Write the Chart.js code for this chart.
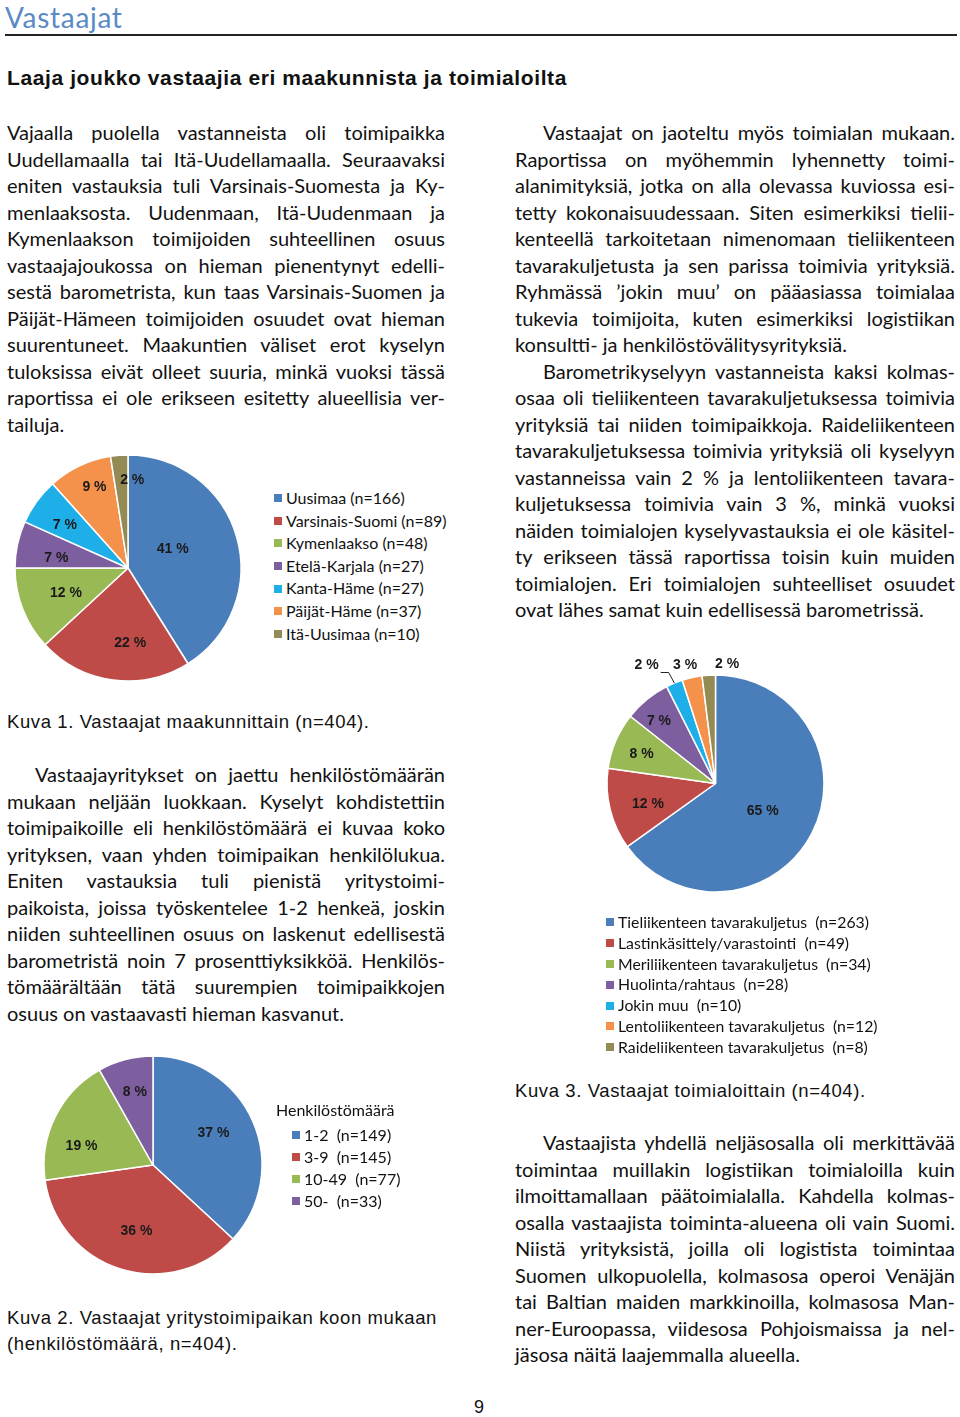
<!DOCTYPE html>
<html lang="fi">
<head>
<meta charset="utf-8">
<title>Vastaajat</title>
<script src="https://cdn.jsdelivr.net/npm/chart.js@4.4.1/dist/chart.umd.min.js"></script>
<style>
  html, body { margin: 0; padding: 0; background: #fff; }
  #page { position: relative; width: 960px; height: 1417px; overflow: hidden; color: #111; }
  .abs { position: absolute; }
  .title { left: 5px; top: 0px; font: 28px Lato, "Open Sans", sans-serif; line-height: normal; color: #5a8ac6; letter-spacing: 0.7px; }
  .rule { left: 5px; top: 34px; width: 952px; height: 2px; background: #222; }
  .sub { left: 7px; top: 65px; font: bold 21px/26px "Liberation Sans", Arial, sans-serif; letter-spacing: 0.6px; color: #111; }
  .col { font: 20px Lato, "Open Sans", sans-serif; color: #111; }
  .col.left { left: 7px; width: 438px; }
  .col.right { left: 515px; width: 440px; }
  .ln { height: 26.5px; line-height: 26.5px; text-align: justify; text-align-last: justify; white-space: normal; }
  .ln.e { text-align-last: left; }
  .ln.ind { padding-left: 28px; }
  .cap { font: 18.5px/26px "Liberation Sans", Arial, sans-serif; letter-spacing: 0.6px; color: #111; }
  .legend { font: 16px Lato, "Open Sans", sans-serif; color: #111; }
  .legend .it { position: relative; white-space: pre; }
  .legend .sw { position: absolute; width: 8px; height: 8px; }
  .pageno { left: 474px; top: 1395px; font: 18px/24px "Liberation Sans", Arial, sans-serif; }
</style>
</head>
<body>
<div id="page">
  <div class="abs title">Vastaajat</div>
  <div class="abs rule"></div>
  <div class="abs sub">Laaja joukko vastaajia eri maakunnista ja toimialoilta</div>

  <div class="abs col left" style="top:119px">
    <div class="ln">Vajaalla puolella vastanneista oli toimipaikka</div>
    <div class="ln">Uudellamaalla tai Itä-Uudellamaalla. Seuraavaksi</div>
    <div class="ln">eniten vastauksia tuli Varsinais-Suomesta ja Ky-</div>
    <div class="ln">menlaaksosta. Uudenmaan, Itä-Uudenmaan ja</div>
    <div class="ln">Kymenlaakson toimijoiden suhteellinen osuus</div>
    <div class="ln">vastaajajoukossa on hieman pienentynyt edelli-</div>
    <div class="ln">sestä barometrista, kun taas Varsinais-Suomen ja</div>
    <div class="ln">Päijät-Hämeen toimijoiden osuudet ovat hieman</div>
    <div class="ln">suurentuneet. Maakuntien väliset erot kyselyn</div>
    <div class="ln">tuloksissa eivät olleet suuria, minkä vuoksi tässä</div>
    <div class="ln">raportissa ei ole erikseen esitetty alueellisia ver-</div>
    <div class="ln e">tailuja.</div>
  </div>

  <div class="abs cap" style="left:7px; top:709px">Kuva 1. Vastaajat maakunnittain (n=404).</div>

  <div class="abs col left" style="top:761px">
    <div class="ln ind">Vastaajayritykset on jaettu henkilöstömäärän</div>
    <div class="ln">mukaan neljään luokkaan. Kyselyt kohdistettiin</div>
    <div class="ln">toimipaikoille eli henkilöstömäärä ei kuvaa koko</div>
    <div class="ln">yrityksen, vaan yhden toimipaikan henkilölukua.</div>
    <div class="ln">Eniten vastauksia tuli pienistä yritystoimi-</div>
    <div class="ln">paikoista, joissa työskentelee 1-2 henkeä, joskin</div>
    <div class="ln">niiden suhteellinen osuus on laskenut edellisestä</div>
    <div class="ln">barometristä noin 7 prosenttiyksikköä. Henkilös-</div>
    <div class="ln">tömäärältään tätä suurempien toimipaikkojen</div>
    <div class="ln e">osuus on vastaavasti hieman kasvanut.</div>
  </div>

  <div class="abs cap" style="left:7px; top:1305px">Kuva 2. Vastaajat yritystoimipaikan koon mukaan<br>(henkilöstömäärä, n=404).</div>

  <div class="abs col right" style="top:119px">
    <div class="ln ind">Vastaajat on jaoteltu myös toimialan mukaan.</div>
    <div class="ln">Raportissa on myöhemmin lyhennetty toimi-</div>
    <div class="ln">alanimityksiä, jotka on alla olevassa kuviossa esi-</div>
    <div class="ln">tetty kokonaisuudessaan. Siten esimerkiksi tielii-</div>
    <div class="ln">kenteellä tarkoitetaan nimenomaan tieliikenteen</div>
    <div class="ln">tavarakuljetusta ja sen parissa toimivia yrityksiä.</div>
    <div class="ln">Ryhmässä ’jokin muu’ on pääasiassa toimialaa</div>
    <div class="ln">tukevia toimijoita, kuten esimerkiksi logistiikan</div>
    <div class="ln e">konsultti- ja henkilöstövälitysyrityksiä.</div>
    <div class="ln ind">Barometrikyselyyn vastanneista kaksi kolmas-</div>
    <div class="ln">osaa oli tieliikenteen tavarakuljetuksessa toimivia</div>
    <div class="ln">yrityksiä tai niiden toimipaikkoja. Raideliikenteen</div>
    <div class="ln">tavarakuljetuksessa toimivia yrityksiä oli kyselyyn</div>
    <div class="ln">vastanneissa vain 2 % ja lentoliikenteen tavara-</div>
    <div class="ln">kuljetuksessa toimivia vain 3 %, minkä vuoksi</div>
    <div class="ln">näiden toimialojen kyselyvastauksia ei ole käsitel-</div>
    <div class="ln">ty erikseen tässä raportissa toisin kuin muiden</div>
    <div class="ln">toimialojen. Eri toimialojen suhteelliset osuudet</div>
    <div class="ln e">ovat lähes samat kuin edellisessä barometrissä.</div>
  </div>

  <div class="abs cap" style="left:515px; top:1078px">Kuva 3. Vastaajat toimialoittain (n=404).</div>

  <div class="abs col right" style="top:1129px">
    <div class="ln ind">Vastaajista yhdellä neljäsosalla oli merkittävää</div>
    <div class="ln">toimintaa muillakin logistiikan toimialoilla kuin</div>
    <div class="ln">ilmoittamallaan päätoimialalla. Kahdella kolmas-</div>
    <div class="ln">osalla vastaajista toiminta-alueena oli vain Suomi.</div>
    <div class="ln">Niistä yrityksistä, joilla oli logistista toimintaa</div>
    <div class="ln">Suomen ulkopuolella, kolmasosa operoi Venäjän</div>
    <div class="ln">tai Baltian maiden markkinoilla, kolmasosa Man-</div>
    <div class="ln">ner-Euroopassa, viidesosa Pohjoismaissa ja nel-</div>
    <div class="ln e">jäsosa näitä laajemmalla alueella.</div>
  </div>

  <div class="abs pageno">9</div>

  <canvas id="pie1" class="abs"></canvas>
  <canvas id="pie2" class="abs"></canvas>
  <canvas id="pie3" class="abs"></canvas>
  <div id="leg1" class="abs legend" style="left:271px; top:487px"></div>
  <div id="leg2" class="abs legend" style="left:276px; top:1099px"></div>
  <div id="leg3" class="abs legend" style="left:603px; top:912px; font-size:15.8px"></div>
</div>

<script>
// Kuva 1: maakunnat
const regionLabels = ["Uusimaa (n=166)", "Varsinais-Suomi (n=89)", "Kymenlaakso (n=48)",
  "Etelä-Karjala (n=27)", "Kanta-Häme (n=27)", "Päijät-Häme (n=37)", "Itä-Uusimaa (n=10)"];
const regionCounts = [166, 89, 48, 27, 27, 37, 10];

// Kuva 2: henkilöstömäärä
const sizeTitle = "Henkilöstömäärä";
const sizeLabels = ["1-2  (n=149)", "3-9  (n=145)", "10-49  (n=77)", "50-  (n=33)"];
const sizeCounts = [149, 145, 77, 33];

// Kuva 3: toimialat
const branchLabels = ["Tieliikenteen tavarakuljetus  (n=263)", "Lastinkäsittely/varastointi  (n=49)",
  "Meriliikenteen tavarakuljetus  (n=34)", "Huolinta/rahtaus  (n=28)", "Jokin muu  (n=10)",
  "Lentoliikenteen tavarakuljetus  (n=12)", "Raideliikenteen tavarakuljetus  (n=8)"];
const branchCounts = [263, 49, 34, 28, 10, 12, 8];

const palette = ["#4a7ebb", "#be4b48", "#98b954", "#7d5fa0", "#1eaee8", "#f4914a", "#948a54"];

// label placement: [fraction of radius, dx, dy, leader line]
const pos1 = [[0.43,-2,-5],[0.66,12,1],[0.59,0,1],[0.64,-1,5],[0.68,-1,2],[0.775,4,-2],[0.776,11,0]];
const pos2 = [[0.625,-2,-5],[0.63,4,1],[0.68,-5,14],[0.69,1,0]];
const pos3 = [[0.5,-1,3],[0.65,1,4],[0.73,-1,2],[0.78,-3,3],[1.26,-17,8,true],[1.127,-4,1],[1.098,19,0]];

const sliceLabels = {
  id: 'sliceLabels',
  afterDatasetsDraw(chart, args, opts) {
    const ctx = chart.ctx;
    const data = chart.data.datasets[0].data;
    const total = data.reduce((a, b) => a + b, 0);
    ctx.save();
    ctx.font = 'bold 14px "Liberation Sans", Arial, sans-serif';
    ctx.fillStyle = '#1a1a1a';
    ctx.textAlign = 'center';
    ctx.textBaseline = 'middle';
    chart.getDatasetMeta(0).data.forEach((arc, i) => {
      const p = opts.pos[i];
      const mid = (arc.startAngle + arc.endAngle) / 2;
      const r = arc.outerRadius * p[0];
      const x = arc.x + Math.cos(mid) * r + p[1];
      const y = arc.y + Math.sin(mid) * r + p[2];
      ctx.fillText(Math.round(data[i] / total * 100) + ' %', x, y);
      if (p[3]) {
        ctx.strokeStyle = '#222';
        ctx.lineWidth = 1;
        ctx.beginPath();
        ctx.moveTo(x + 14, y + 7.5);
        ctx.lineTo(x + 22, y + 7.5);
        ctx.lineTo(arc.x + Math.cos(mid) * arc.outerRadius, arc.y + Math.sin(mid) * arc.outerRadius);
        ctx.stroke();
      }
    });
    ctx.restore();
  }
};

function makePie(id, cx, cy, radius, labels, counts, pos) {
  const pad = 30, bw = 1.5;
  const size = Math.round(2 * radius + 2 * pad);
  const cv = document.getElementById(id);
  cv.width = size; cv.height = size;
  cv.style.left = (cx - size / 2) + 'px';
  cv.style.top = (cy - size / 2) + 'px';
  new Chart(cv, {
    type: 'pie',
    data: {
      labels: labels,
      datasets: [{
        data: counts,
        backgroundColor: palette.slice(0, counts.length),
        borderColor: '#ffffff',
        borderWidth: bw
      }]
    },
    options: {
      responsive: false,
      animation: false,
      events: [],
      layout: { padding: pad - bw / 2 },
      plugins: {
        legend: { display: false },
        tooltip: { enabled: false },
        sliceLabels: { pos: pos }
      }
    },
    plugins: [sliceLabels]
  });
}

function makeLegend(id, labels, rowH, title) {
  const box = document.getElementById(id);
  let html = '';
  if (title) html += '<div style="height:' + (rowH + 3) + 'px;line-height:' + rowH + 'px">' + title + '</div>';
  labels.forEach((t, i) => {
    const ind = title ? 28 : 15;
    html += '<div class="it" style="height:' + rowH + 'px;line-height:' + rowH + 'px;padding-left:' + ind + 'px">' +
      '<span class="sw" style="left:' + (ind - 12) + 'px;top:' + (rowH / 2 - 4) + 'px;background:' + palette[i] + '"></span>' +
      t + '</div>';
  });
  box.innerHTML = html;
}

makePie('pie1', 128.3, 568.3, 113, regionLabels, regionCounts, pos1);
makePie('pie2', 153.3, 1165, 109, sizeLabels, sizeCounts, pos2);
makePie('pie3', 715, 783.3, 108.3, branchLabels, branchCounts, pos3);

makeLegend('leg1', regionLabels, 22.6);
makeLegend('leg2', sizeLabels, 22, sizeTitle);
makeLegend('leg3', branchLabels, 20.8);
</script>
</body>
</html>
